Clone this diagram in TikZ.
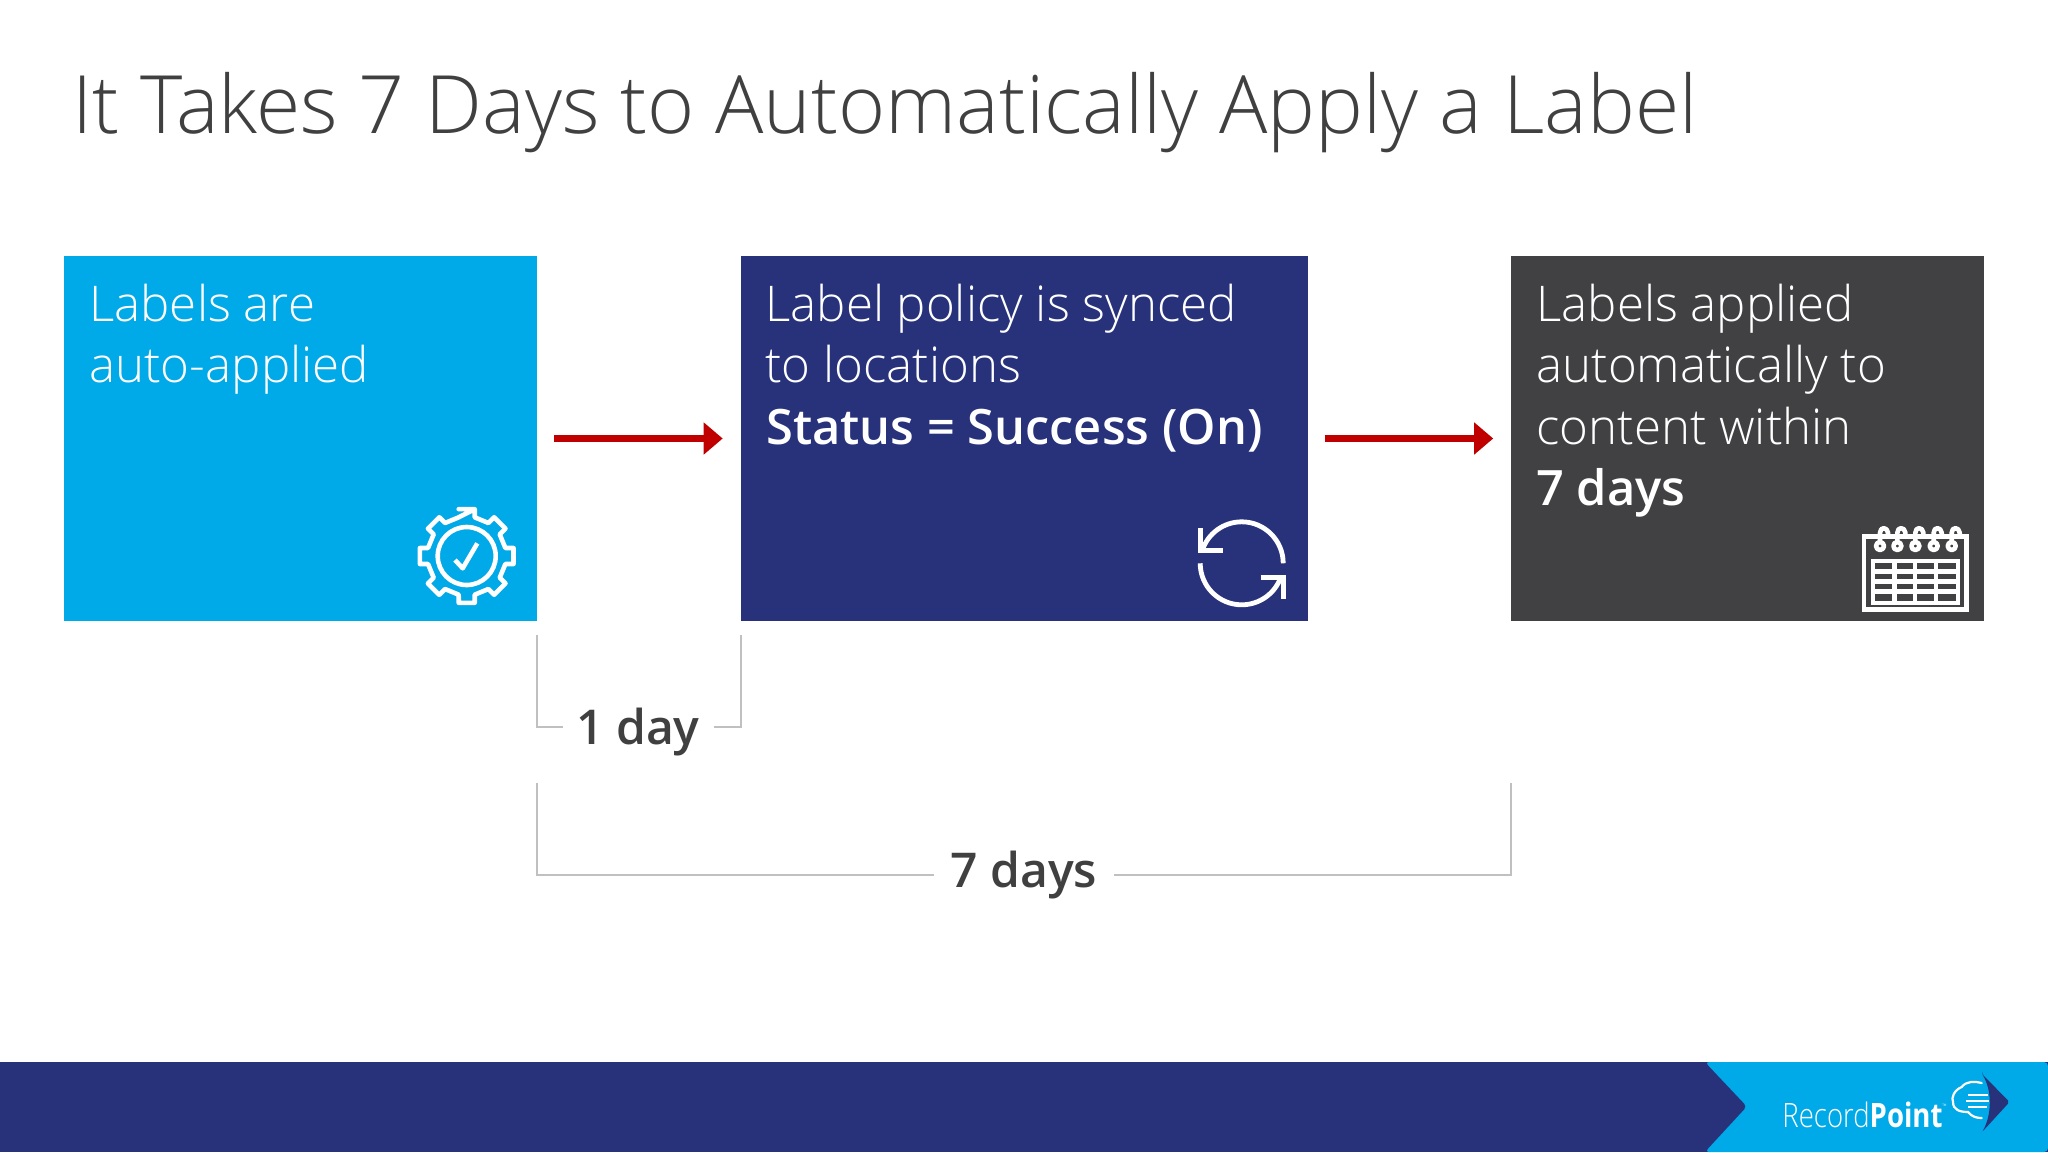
\documentclass[tikz,border=0pt]{standalone}
\usepackage{fontspec}
\setmainfont{Open Sans Light}
\newfontfamily\semi{Open Sans Semibold}
\newfontfamily\boldf{Open Sans Bold}
\usetikzlibrary{arrows.meta}
\definecolor{cyanb}{HTML}{00A9E7}
\definecolor{navyb}{HTML}{27327B}
\definecolor{darkb}{HTML}{414042}
\definecolor{inkc}{HTML}{404041}
\definecolor{redc}{HTML}{C00000}
\definecolor{greyc}{HTML}{C0C0C2}
\tikzset{
  x=0.5pt,y=-0.5pt,
  boxn/.style={draw=none,minimum height=182.5pt,inner sep=0,outer sep=0,anchor=north west},
  boxtxt/.style={anchor=base west,inner sep=0,text=white,font=\fontsize{24.6}{24.6}\selectfont},
  boxbold/.style={boxtxt,font=\fontsize{24.4}{24.4}\semi},
  arr/.style={redc,line width=3.2pt,shorten <=8.5pt,shorten >=8.9pt,-{Triangle[length=9.5pt,width=15.5pt]}},
  brk/.style={greyc,line width=1pt},
  lab/.style={anchor=base,inner sep=0,text=inkc,font=\fontsize{24}{24}\semi},
  icon/.style={white,line width=2.3pt,line join=round},
  iconb/.style={white,line width=2.4pt,line join=miter},
}
\begin{document}
\begin{tikzpicture}
\useasboundingbox (0,0) rectangle (2048,1152);
\fill[white] (0,0) rectangle (2048,1152);
% title
\node[anchor=base west,inner sep=0,text=inkc,font=\fontsize{40.25}{40.25}\selectfont] (title) at (72,133) {It Takes 7 Days to Automatically Apply a Label};
% boxes
\node[boxn,fill=cyanb,minimum width=236.5pt] (b1) at (64,256) {};
\node[boxn,fill=navyb,minimum width=283.5pt] (b2) at (740.5,256) {};
\node[boxn,fill=darkb,minimum width=236.5pt] (b3) at (1511,256) {};
% box text
\node[boxtxt] (t11) at (89,321) {Labels are};
\node[boxtxt] (t12) at (89,382) {auto-applied};
\node[boxtxt] (t21) at (765,321) {Label policy is synced};
\node[boxtxt] (t22) at (765,382) {to locations};
\node[boxbold] (t23) at (766,444) {Status = Success (On)};
\node[boxtxt] (t31) at (1536,321) {Labels applied};
\node[boxtxt] (t32) at (1536,382) {automatically to};
\node[boxtxt] (t33) at (1536,444) {content within};
\node[boxbold] (t34) at (1536,505) {7 days};
% arrows
\draw[arr] (b1.east) -- (b2.west);
\draw[arr] (b2.east) -- (b3.west);
% brackets
\node[lab] (d1) at (638,744) {1 day};
\node[lab] (d7) at (1024,887) {7 days};
\coordinate (a1) at (537,635);
\coordinate (a2) at (740.5,635);
\coordinate (c1) at (537,783);
\coordinate (c2) at (1511,783);
\draw[brk] (a1) |- (563,727);
\draw[brk] (a2) |- (714,727);
\draw[brk] (c1) |- (934,874.5);
\draw[brk] (c2) |- (1114,874.5);
% gear icon
\begin{scope}[shift={(466.7,556)}]
\draw[icon] (-80.3:47.5)
  \foreach \a in {0,45,...,315}{
    -- ({\a-90-9.7}:47.5) -- ({\a-90+9.7}:47.5) -- ({\a-90+11.7}:39.5) -- ({\a-90+45-11.7}:39.5)
  } -- cycle;
\draw[icon] (0,0) circle[radius=29];
\draw[icon] (-11.7,4) -- (-4,12.3) -- (10.6,-12.7);
\end{scope}
% sync icon
\begin{scope}[shift={(1241.7,563.3)}]
\draw[iconb] (41.5,0) arc[start angle=0,end angle=-162.5,radius=41.5];
\draw[iconb] (-41.5,0) arc[start angle=180,end angle=19.4,radius=41.5];
\draw[iconb] (-41.5,-35) -- (-41.5,-13) -- (-19,-13);
\draw[iconb] (19,14) -- (41.5,14) -- (41.5,36);
\end{scope}
% calendar icon
\begin{scope}[shift={(1840,510)},x=0.1667pt,y=-0.1667pt]
\draw[iconb] (72,80) rectangle (380,298);
\draw[iconb,line width=2pt] (100,152) rectangle (355,278);
\foreach \yy in {184,214,245}{\draw[icon] (100,\yy) -- (355,\yy);}
\foreach \xx in {163,225,288}{\draw[icon] (\xx,152) -- (\xx,278);}
\foreach \xx in {120,172,226,281,335}{
  \draw[icon] (\xx,108) circle[radius=12];
  \draw[icon] (\xx,96) -- (\xx,68) .. controls (\xx,50) and ({\xx+22},50) .. ({\xx+24},68) -- ({\xx+24},80);
}
\end{scope}
% footer
\fill[navyb] (0,1062) rectangle (2048,1152);
\fill[cyanb,rounded corners=2pt] (1705,1062) -- (1747,1106.5) -- (1705,1152) -- (2048,1152) -- (2048,1062) -- cycle;
% logo
\node[anchor=base west,inner sep=0,text=white,font=\fontsize{16.8}{16.8}\selectfont] (rp) at (1782,1127) {\scalebox{0.82}[1]{Record{\boldf Point}}};
\node[anchor=base west,inner sep=0,text=white,font=\fontsize{3}{3}\selectfont] (tm) at (1942,1108) {™};
\fill[navyb,rounded corners=1pt] (1982,1074) -- (2009.5,1102) -- (1982,1132) .. controls (1992,1115) and (1992,1090) .. cycle;
\draw[white,line width=1.1pt,line cap=round] (1981.7,1083) .. controls (1975,1081) and (1966,1081) .. (1961.7,1087)
  .. controls (1954,1090) and (1951,1098) .. (1953,1102) .. controls (1953,1110) and (1960,1112) .. (1968,1112)
  .. controls (1972,1117) and (1977,1118) .. (1981.7,1118);
\foreach \yy/\xa/\xb in {1095/1968/1988,1101/1966/1989,1107/1968/1987}{
  \draw[white,line width=1pt] (\xa,\yy) -- (\xb,\yy);
}
\end{tikzpicture}
\end{document}
